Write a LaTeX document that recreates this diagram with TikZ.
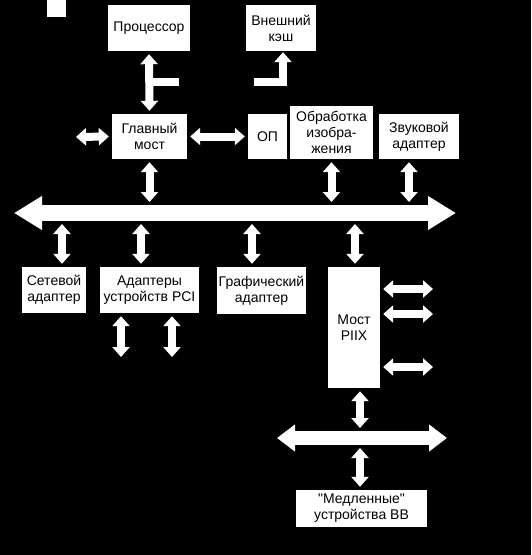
\documentclass[tikz,border=0pt]{standalone}
\usepackage{fontspec}
\setmainfont{Liberation Sans}
\usetikzlibrary{arrows.meta}

\tikzset{
  blk/.style={fill=white, inner sep=0pt, align=center, font=\fontsize{14}{16}\selectfont},
  link/.style={white, line width=8pt, shorten <=3pt, shorten >=3pt,
    {Triangle[length=10pt,width=17pt]}-{Triangle[length=10pt,width=17pt]}},
  feed/.style={white, line width=8pt, line join=miter, shorten >=1pt,
    -{Triangle[length=10pt,width=17pt]}},
  bar/.style={white, line width=8pt},
  bus/.style={white, line width=16pt,
    {Triangle[length=28pt,width=32pt]}-{Triangle[length=28pt,width=32pt]}},
  subbus/.style={white, line width=14pt,
    {Triangle[length=18pt,width=26pt]}-{Triangle[length=18pt,width=26pt]}},
}

\begin{document}
\begin{tikzpicture}[x=1pt,y=-1pt]
        \fill [black] (0,0) rectangle (531,555);
        \useasboundingbox (0,0) rectangle (531,555);
        \fill [white] (47,0) rectangle (66,17);

        % upper level
        \node [blk, minimum width=82pt, minimum height=46pt] (cpu) at (149,28) {Процессор};
        \node [blk, minimum width=70pt, minimum height=46pt] (cache) at (281,28) {Внешний\\кэш};
        \node [blk, minimum width=75pt, minimum height=45pt] (nb) at (149.5,136.5) {Главный\\мост};
        \node [blk, minimum width=39pt, minimum height=45pt] (ram) at (267.5,136.5) {ОП};
        \node [blk, minimum width=83pt, minimum height=53pt] (img) at (331.5,132.5) {Обработка\\изобра-\\жения};
        \node [blk, minimum width=80pt, minimum height=45pt] (snd) at (419,136.5) {Звуковой\\адаптер};

        % PCI level
        \node [blk, minimum width=64pt, minimum height=46pt] (net) at (54,290) {Сетевой\\адаптер};
        \node [blk, minimum width=99pt, minimum height=46pt] (pci) at (149.5,290) {Адаптеры\\устройств PCI};
        \node [blk, minimum width=89pt, minimum height=47pt] (gfx) at (261.5,290.5) {Графический\\адаптер};
        \node [blk, minimum width=52pt, minimum height=121pt] (piix) at (354,327.5) {Мост\\PIIX};
        \node [blk, minimum width=131pt, minimum height=37pt] (slow) at (361.5,508.5) {\textquotedbl Медленные\textquotedbl\\устройства ВВ};

        % buses
        \coordinate (busL) at (14,213);
        \coordinate (busR) at (456,213);
        \coordinate (busN) at (0,205);
        \coordinate (busS) at (0,221);
        \draw [bus] (busL) -- (busR);
        \coordinate (bus2L) at (277,438);
        \coordinate (bus2R) at (447,438);
        \coordinate (bus2N) at (0,431);
        \coordinate (bus2S) at (0,445);
        \draw [subbus] (bus2L) -- (bus2R);

        % processor and cache
        \draw [link] (cpu.south) -- (nb.north);
        \coordinate (cpuT) at (179,82);
        \draw [bar] (cpu.south |- cpuT) -- (cpuT);
        \coordinate (cacheT) at (254,82);
        \coordinate (cacheX) at (283,0);
        \draw [feed] (cacheT) -| (cacheX |- cache.south);

        % around the main bridge
        \coordinate (nbL) at (73,137);
        \draw [link] (nb.west) -- (nbL);
        \draw [link] (nb.east) -- (ram.west);
        \draw [link] (nb.south) -- (nb.south |- busN);
        \draw [link] (img.south) -- (img.south |- busN);
        \coordinate (sndX) at (409,0);
        \draw [link] (sndX |- snd.south) -- (sndX |- busN);

        % down from the bus
        \coordinate (netX) at (62,0);
        \coordinate (pciX) at (141,0);
        \coordinate (gfxX) at (252,0);
        \coordinate (piixX) at (355,0);
        \draw [link] (netX |- busS) -- (netX |- net.north);
        \draw [link] (pciX |- busS) -- (pciX |- pci.north);
        \draw [link] (gfxX |- busS) -- (gfxX |- gfx.north);
        \draw [link] (piixX |- busS) -- (piixX |- piix.north);

        \coordinate (pciA) at (121,360);
        \coordinate (pciB) at (172,360);
        \draw [link] (pci.south -| pciA) -- (pciA);
        \draw [link] (pci.south -| pciB) -- (pciB);

        \coordinate (ioA) at (436,289);
        \coordinate (ioB) at (436,314);
        \coordinate (ioC) at (436,367);
        \draw [link] (piix.east |- ioA) -- (ioA);
        \draw [link] (piix.east |- ioB) -- (ioB);
        \draw [link] (piix.east |- ioC) -- (ioC);

        \coordinate (slowX) at (360,0);
        \draw [link] (slowX |- piix.south) -- (slowX |- bus2N);
        \draw [link] (slowX |- bus2S) -- (slowX |- slow.north);
\end{tikzpicture}
\end{document}
